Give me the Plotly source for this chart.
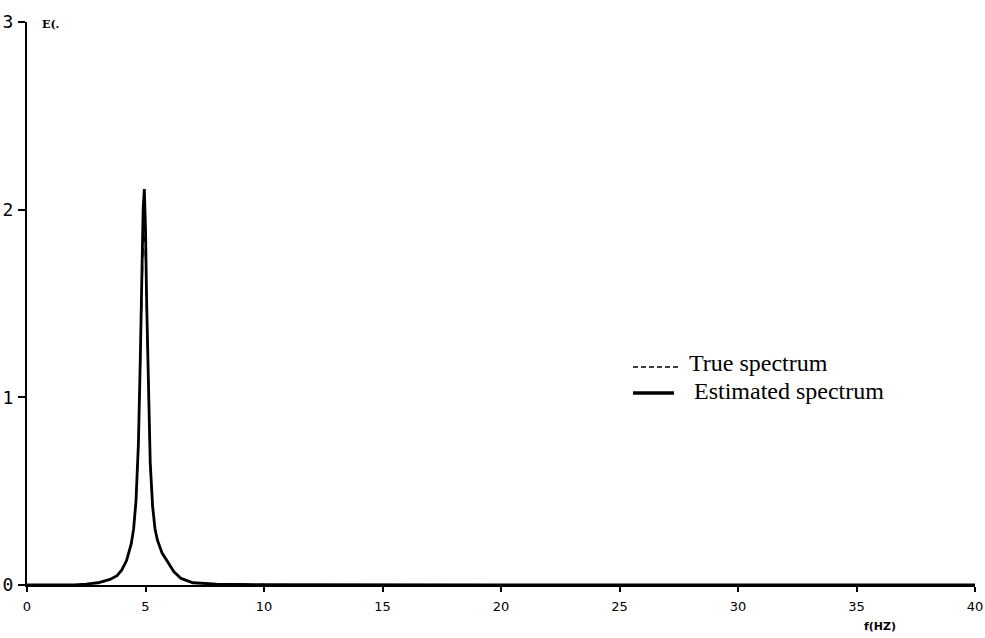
import plotly.graph_objects as go

# Frequency (Hz) and spectral values
freq = [0.0, 2.0, 2.5, 3.0, 3.5, 3.8, 4.0, 4.2, 4.4, 4.5, 4.6, 4.7, 4.78, 4.85, 4.9, 4.95,
        5.0, 5.05, 5.12, 5.2, 5.3, 5.4, 5.5, 5.7, 5.9, 6.2, 6.5, 7.0, 8.0, 10.0, 20.0, 40.0]
estimated = [0.0, 0.0, 0.005, 0.012, 0.03, 0.05, 0.08, 0.13, 0.22, 0.3, 0.45, 0.75, 1.2, 1.7, 2.0, 2.11,
             1.9, 1.5, 1.0, 0.65, 0.42, 0.3, 0.24, 0.17, 0.13, 0.07, 0.035, 0.012, 0.004, 0.002, 0.0, 0.0]
true_vals = [0.0, 0.0, 0.005, 0.012, 0.03, 0.05, 0.08, 0.13, 0.22, 0.3, 0.45, 0.74, 1.18, 1.6, 1.82, 1.86,
             1.75, 1.45, 0.98, 0.64, 0.41, 0.3, 0.24, 0.17, 0.13, 0.07, 0.035, 0.012, 0.004, 0.002, 0.0, 0.0]

x_ticks = [0, 5, 10, 15, 20, 25, 30, 35, 40]
y_ticks = [0, 1, 2, 3]
y_ticktext = ["0", "1", "2", "3"]
legend_labels = ["True spectrum", "Estimated spectrum"]

W, H = 985, 638
ML, MR, MT, MB = 27, 10, 22, 53
PW, PH = W - ML - MR, H - MT - MB


def px_x(px):
    return (px - ML) / PW


def px_y(py):
    return (H - MB - py) / PH


fig = go.Figure()
fig.add_trace(go.Scatter(x=freq, y=true_vals, mode="lines", name=legend_labels[0],
                         line=dict(color="black", width=1.5, dash="dash"), showlegend=False))
fig.add_trace(go.Scatter(x=freq, y=estimated, mode="lines", name=legend_labels[1],
                         line=dict(color="black", width=2.8), showlegend=False))

shapes = [
    dict(type="line", xref="paper", yref="paper", x0=px_x(633), x1=px_x(680), y0=px_y(367), y1=px_y(367),
         line=dict(color="black", width=1.5, dash="5px,3px")),
    dict(type="line", xref="paper", yref="paper", x0=px_x(633), x1=px_x(674), y0=px_y(393), y1=px_y(393),
         line=dict(color="black", width=3.5)),
]

annotations = [
    dict(text=legend_labels[0], xref="paper", yref="paper", x=px_x(687), y=px_y(363),
         xanchor="left", yanchor="middle", showarrow=False,
         font=dict(family="Liberation Serif", size=24, color="black")),
    dict(text=legend_labels[1], xref="paper", yref="paper", x=px_x(692), y=px_y(391),
         xanchor="left", yanchor="middle", showarrow=False,
         font=dict(family="Liberation Serif", size=24, color="black")),
    dict(text="<b>E(.</b>", xref="paper", yref="paper", x=px_x(40), y=px_y(24), xanchor="left", yanchor="middle",
         showarrow=False, font=dict(family="DejaVu Serif", size=11, color="black")),
    dict(text="<b>f(HZ)</b>", xref="paper", yref="paper", x=px_x(880), y=px_y(626), xanchor="center",
         yanchor="middle", showarrow=False, font=dict(family="DejaVu Sans", size=11, color="black")),
]

fig.update_layout(
    width=W, height=H,
    margin=dict(l=ML, r=MR, t=MT, b=MB),
    paper_bgcolor="white", plot_bgcolor="white",
    showlegend=False,
    xaxis=dict(range=[0, 40], tickvals=x_ticks, showgrid=False, zeroline=False, automargin=False,
               showline=True, linecolor="black", linewidth=2,
               ticks="outside", ticklen=5, tickcolor="black", tickwidth=1.5,
               ticklabelstandoff=3,
               tickfont=dict(family="DejaVu Sans", size=13, color="black")),
    yaxis=dict(range=[0, 3], tickvals=y_ticks, ticktext=y_ticktext, showgrid=False, zeroline=False,
               automargin=False,
               showline=True, linecolor="black", linewidth=2,
               ticks="outside", ticklen=7, tickcolor="black", tickwidth=1.5,
               ticklabelstandoff=1,
               tickfont=dict(family="DejaVu Sans Mono", size=18, color="black")),
    shapes=shapes,
    annotations=annotations,
)

fig.write_html("out.html")
